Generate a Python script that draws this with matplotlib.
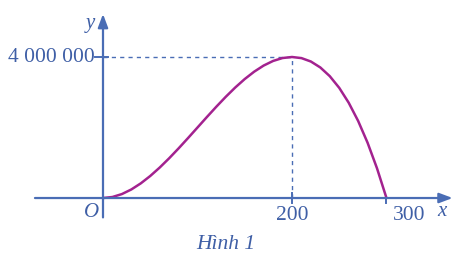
import matplotlib.pyplot as plt

# values (x, y)
xs = [0, 10, 20, 30, 40, 50, 60, 70, 80, 90, 100, 110, 120, 130, 140, 150,
      160, 170, 180, 190, 200, 210, 220, 230, 240, 250, 260, 270, 280, 290, 300]
ys = [0, 29000, 112000, 243000, 416000, 625000, 864000, 1127000, 1408000,
      1701000, 2000000, 2299000, 2592000, 2873000, 3136000, 3375000,
      3584000, 3757000, 3888000, 3971000, 4000000, 3969000, 3872000,
      3703000, 3456000, 3125000, 2704000, 2187000, 1568000, 841000, 0]
x_peak = 200
y_peak = 4000000
x_end = 300

axis_col = '#4a6db5'
text_col = '#3f5fa6'
curve_col = '#a3228f'

plt.rcParams['font.family'] = ['Liberation Serif', 'DejaVu Serif']

fig = plt.figure(figsize=(4.77, 2.65), dpi=100)
ax = fig.add_axes([0, 0, 1, 1])
ax.set_xlim(-109, 395.8)
ax.set_ylim(-1.90e6, 5.617e6)
ax.axis('off')

# axes with arrows
ax.annotate('', xy=(370, 0), xytext=(-72, 0),
            arrowprops=dict(arrowstyle='-|>,head_length=0.8,head_width=0.3',
                            color=axis_col, lw=1.6, shrinkA=0, shrinkB=0))
ax.annotate('', xy=(0, 5.22e6), xytext=(0, -0.55e6),
            arrowprops=dict(arrowstyle='-|>,head_length=0.8,head_width=0.3',
                            color=axis_col, lw=1.6, shrinkA=0, shrinkB=0))

# dashed guides
ax.plot([0, x_peak], [y_peak, y_peak], color=axis_col, lw=1, ls=(0, (3, 3)))
ax.plot([x_peak, x_peak], [0, y_peak], color=axis_col, lw=1, ls=(0, (3, 3)))

# ticks
ax.plot([-8, 5], [y_peak, y_peak], color=axis_col, lw=1.4)
ax.plot([x_peak, x_peak], [-0.15e6, 0.15e6], color=axis_col, lw=1.4)
ax.plot([x_end, x_end], [-0.15e6, 0], color=axis_col, lw=1.4)

ax.plot(xs, ys, color=curve_col, lw=1.8, solid_capstyle='round')

ax.text(-9, y_peak, '4 000 000', ha='right', va='center', fontsize=15.5, color=text_col)
ax.text(x_peak, -0.22e6, '200', ha='center', va='top', fontsize=15.5, color=text_col)
ax.text(x_end + 24, -0.22e6, '300', ha='center', va='top', fontsize=15.5, color=text_col)
ax.text(-4, -0.15e6, 'O', ha='right', va='top', fontsize=15, color=text_col, style='italic')
ax.text(359, -0.1e6, 'x', ha='center', va='top', fontsize=15, color=text_col, style='italic')
ax.text(-8, 4.96e6, 'y', ha='right', va='center', fontsize=15, color=text_col, style='italic')
ax.text(130, -1.33e6, 'Hình 1', ha='center', va='center', fontsize=15.5, color=text_col, style='italic')

fig.savefig('out.png', dpi=100)
